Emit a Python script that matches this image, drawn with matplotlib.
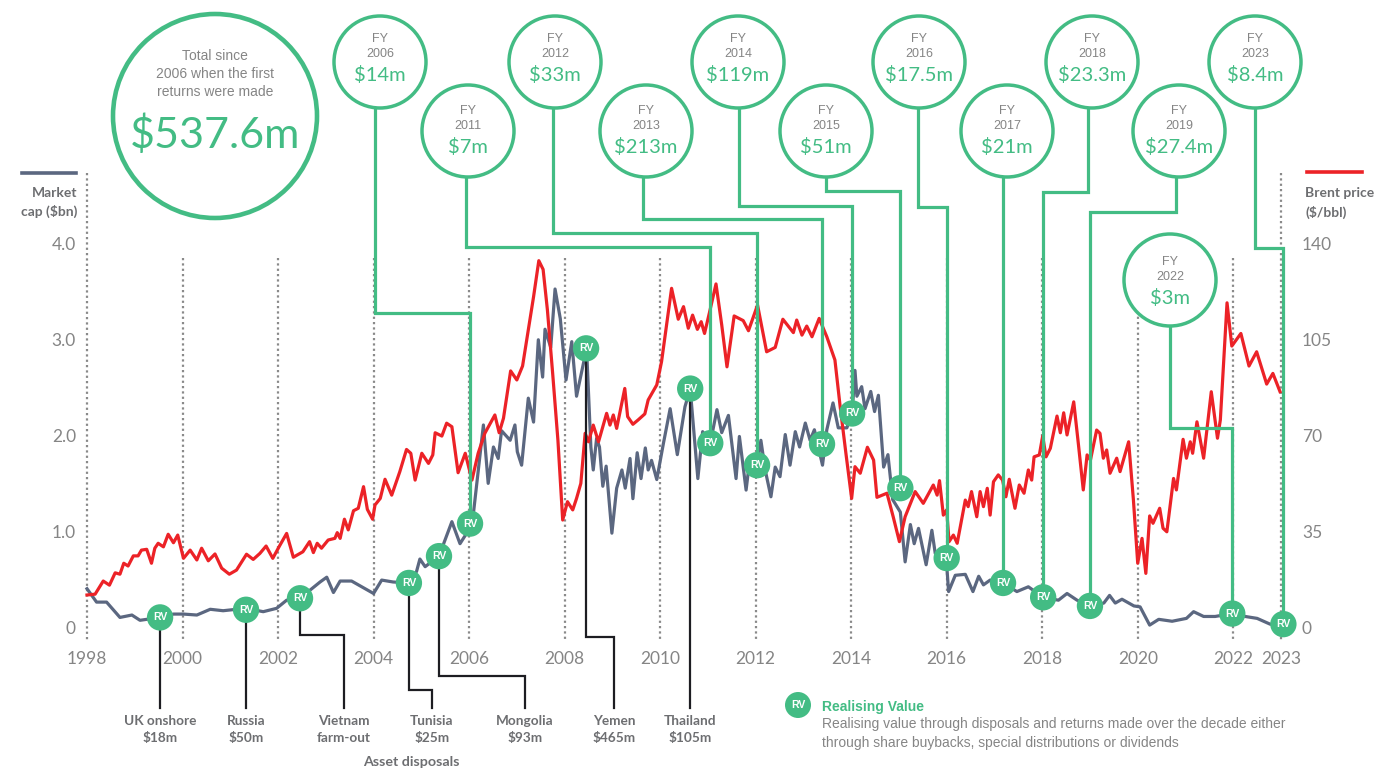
import matplotlib
matplotlib.use('Agg')
import matplotlib.pyplot as plt
import matplotlib.transforms as mtransforms
from matplotlib.patches import Circle

# ---- data ----
mcap_years = [1998.0, 1998.2, 1998.41, 1998.69, 1998.94, 1999.11, 1999.25, 1999.53, 1999.81, 2000.02,
              2000.3, 2000.58, 2000.85, 2001.13, 2001.33, 2001.48, 2001.69, 2001.97, 2002.18, 2002.46,
              2002.88, 2003.02, 2003.16, 2003.3, 2003.54, 2004.0, 2004.17, 2004.41, 2004.74, 2004.9,
              2004.97, 2005.08, 2005.37, 2005.64, 2005.81, 2005.95, 2006.02, 2006.06, 2006.3, 2006.4,
              2006.51, 2006.61, 2006.68, 2006.86, 2006.96, 2007.01, 2007.1, 2007.24, 2007.35, 2007.45,
              2007.54, 2007.59, 2007.71, 2007.8, 2007.91, 2008.03, 2008.15, 2008.25, 2008.46, 2008.55,
              2008.6, 2008.67, 2008.73, 2008.8, 2008.87, 2008.94, 2008.99, 2009.09, 2009.2, 2009.27,
              2009.37, 2009.43, 2009.52, 2009.6, 2009.69, 2009.75, 2009.82, 2009.93, 2010.07, 2010.21,
              2010.36, 2010.52, 2010.63, 2010.79, 2010.89, 2011.05, 2011.19, 2011.29, 2011.43, 2011.59,
              2011.66, 2011.8, 2011.88, 2012.03, 2012.11, 2012.2, 2012.32, 2012.41, 2012.51, 2012.62,
              2012.72, 2012.83, 2012.92, 2013.04, 2013.14, 2013.23, 2013.4, 2013.49, 2013.62, 2013.73,
              2013.91, 2014.02, 2014.08, 2014.12, 2014.22, 2014.29, 2014.41, 2014.49, 2014.57, 2014.68,
              2014.77, 2014.87, 2015.03, 2015.13, 2015.24, 2015.32, 2015.41, 2015.57, 2015.69, 2015.76,
              2015.99, 2016.04, 2016.18, 2016.39, 2016.55, 2016.67, 2016.77, 2016.91, 2017.18, 2017.47,
              2017.71, 2018.02, 2018.34, 2018.52, 2018.73, 2019.01, 2019.29, 2019.41, 2019.53, 2019.67,
              2019.92, 2020.05, 2020.25, 2020.44, 2020.72, 2021.02, 2021.17, 2021.38, 2021.62, 2021.98,
              2022.25, 2022.5, 2022.77, 2023.0]
mcap_vals = [0.40, 0.26, 0.26, 0.10, 0.125, 0.07, 0.08, 0.10, 0.135, 0.135,
             0.125, 0.185, 0.17, 0.185, 0.18, 0.18, 0.16, 0.195, 0.28, 0.30,
             0.47, 0.52, 0.36, 0.48, 0.48, 0.35, 0.49, 0.47, 0.46, 0.58,
             0.71, 0.63, 0.74, 1.10, 0.87, 0.98, 1.08, 1.05, 2.11, 1.50,
             1.88, 1.76, 2.05, 1.95, 2.11, 1.83, 1.69, 2.39, 2.14, 3.00,
             2.61, 3.11, 2.92, 3.53, 3.22, 2.58, 2.98, 2.41, 2.91, 1.88,
             1.64, 1.97, 1.88, 1.47, 1.68, 1.27, 0.98, 1.45, 1.64, 1.45,
             1.76, 1.34, 1.82, 1.55, 1.87, 1.64, 1.74, 1.54, 1.92, 2.28,
             1.80, 2.30, 2.49, 1.55, 2.04, 1.92, 2.27, 2.03, 2.21, 1.55,
             1.99, 1.43, 1.76, 1.69, 1.95, 1.64, 1.36, 1.67, 1.57, 2.01,
             1.69, 2.04, 1.88, 2.13, 1.95, 2.06, 1.69, 2.06, 2.34, 2.08,
             2.08, 2.23, 2.68, 2.41, 2.51, 2.28, 2.46, 2.25, 2.42, 1.67,
             1.80, 1.33, 1.20, 0.68, 1.07, 0.87, 1.03, 0.65, 1.01, 0.77,
             0.72, 0.37, 0.54, 0.55, 0.37, 0.53, 0.44, 0.49, 0.46, 0.37,
             0.42, 0.31, 0.28, 0.35, 0.28, 0.22, 0.25, 0.33, 0.25, 0.29,
             0.22, 0.21, 0.02, 0.08, 0.06, 0.09, 0.16, 0.11, 0.11, 0.14,
             0.11, 0.09, 0.03, 0.02]

brent_years = [1998.0, 1998.17, 1998.34, 1998.47, 1998.59, 1998.69, 1998.77, 1998.86, 1998.97, 1999.07,
               1999.14, 1999.25, 1999.35, 1999.42, 1999.49, 1999.6, 1999.7, 1999.81, 1999.9, 2000.02,
               2000.16, 2000.3, 2000.4, 2000.54, 2000.68, 2000.82, 2000.98, 2001.13, 2001.34, 2001.48,
               2001.62, 2001.75, 2001.89, 2002.03, 2002.18, 2002.32, 2002.52, 2002.66, 2002.74, 2002.82,
               2002.91, 2003.05, 2003.19, 2003.24, 2003.3, 2003.39, 2003.47, 2003.58, 2003.68, 2003.79,
               2003.87, 2003.98, 2004.03, 2004.14, 2004.24, 2004.38, 2004.55, 2004.69, 2004.78, 2004.87,
               2005.01, 2005.15, 2005.24, 2005.29, 2005.43, 2005.53, 2005.64, 2005.77, 2005.92, 2006.06,
               2006.19, 2006.33, 2006.54, 2006.63, 2006.72, 2006.87, 2007.0, 2007.12, 2007.24, 2007.35,
               2007.46, 2007.55, 2007.64, 2007.75, 2007.86, 2007.96, 2008.06, 2008.17, 2008.25, 2008.34,
               2008.43, 2008.5, 2008.6, 2008.71, 2008.88, 2008.95, 2009.02, 2009.09, 2009.26, 2009.32,
               2009.43, 2009.54, 2009.68, 2009.75, 2009.93, 2010.03, 2010.14, 2010.24, 2010.38, 2010.49,
               2010.59, 2010.68, 2010.78, 2010.86, 2010.93, 2011.03, 2011.17, 2011.29, 2011.4, 2011.55,
               2011.74, 2011.85, 2012.04, 2012.23, 2012.41, 2012.57, 2012.79, 2012.86, 2012.97, 2013.07,
               2013.18, 2013.33, 2013.49, 2013.66, 2013.77, 2013.89, 2014.01, 2014.08, 2014.19, 2014.34,
               2014.47, 2014.54, 2014.75, 2014.88, 2015.01, 2015.13, 2015.34, 2015.51, 2015.72, 2015.8,
               2015.85, 2015.93, 2016.0, 2016.05, 2016.14, 2016.22, 2016.39, 2016.45, 2016.52, 2016.63,
               2016.7, 2016.77, 2016.85, 2016.91, 2016.98, 2017.08, 2017.17, 2017.24, 2017.31, 2017.43,
               2017.52, 2017.62, 2017.71, 2017.78, 2017.83, 2017.94, 2018.01, 2018.08, 2018.17, 2018.31,
               2018.38, 2018.45, 2018.52, 2018.66, 2018.76, 2018.86, 2018.94, 2019.01, 2019.14, 2019.21,
               2019.28, 2019.35, 2019.42, 2019.56, 2019.63, 2019.81, 2019.91, 2020.0, 2020.09, 2020.17,
               2020.25, 2020.32, 2020.46, 2020.53, 2020.61, 2020.75, 2020.81, 2020.95, 2021.02, 2021.1,
               2021.15, 2021.24, 2021.38, 2021.54, 2021.67, 2021.73, 2021.87, 2021.97, 2022.16, 2022.33,
               2022.49, 2022.7, 2022.83, 2022.98]
brent_vals = [11.7, 12.0, 16.8, 15.3, 19.8, 19.3, 23.3, 22.3, 26.0, 26.0,
              28.1, 28.4, 23.3, 28.8, 30.6, 29.3, 33.9, 30.8, 33.6, 25.1,
              28.1, 24.5, 28.8, 24.2, 26.7, 21.5, 19.3, 20.8, 26.6, 24.7,
              26.9, 29.6, 25.1, 29.6, 34.2, 25.5, 27.5, 31.2, 27.2, 30.6,
              28.8, 31.8, 32.4, 34.5, 32.4, 39.4, 35.5, 42.5, 43.4, 51.3,
              43.0, 39.4, 44.6, 47.0, 54.0, 48.2, 56.8, 64.9, 63.5, 53.7,
              63.5, 59.8, 62.9, 71.0, 69.8, 74.5, 73.2, 56.4, 63.5, 53.7,
              63.5, 70.8, 77.5, 71.0, 76.3, 93.6, 90.3, 95.4, 108.6, 120.7,
              133.9, 130.7, 115.9, 92.7, 68.3, 39.1, 45.8, 42.8, 47.0, 52.5,
              70.8, 67.7, 73.8, 67.7, 78.1, 73.8, 77.5, 72.6, 87.2, 76.9,
              74.1, 75.7, 77.9, 83.0, 88.5, 97.0, 111.0, 123.8, 112.5, 117.1,
              109.2, 114.0, 108.8, 111.6, 107.3, 114.7, 125.4, 110.4, 95.1, 113.7,
              112.0, 108.3, 117.7, 100.6, 102.2, 112.5, 107.6, 112.2, 106.7, 110.0,
              106.1, 112.8, 106.1, 97.6, 80.5, 63.5, 47.0, 58.6, 56.2, 65.7,
              61.0, 47.4, 48.9, 40.3, 31.2, 40.3, 49.5, 45.2, 51.9, 48.2,
              53.5, 40.9, 42.8, 31.2, 33.6, 30.6, 46.4, 44.0, 49.5, 40.3,
              49.5, 44.0, 50.7, 40.9, 53.1, 55.6, 53.7, 47.6, 54.0, 43.4,
              51.9, 48.9, 57.4, 53.7, 62.2, 62.9, 69.8, 62.2, 65.3, 77.1,
              71.0, 78.3, 70.2, 82.3, 66.5, 50.1, 62.9, 61.0, 72.0, 70.8,
              61.7, 64.7, 56.2, 61.7, 56.8, 67.7, 46.4, 23.3, 32.4, 19.6,
              40.6, 37.9, 43.4, 36.1, 34.8, 54.3, 50.1, 68.6, 61.7, 67.7,
              63.5, 75.0, 61.7, 86.0, 69.0, 75.7, 118.5, 102.7, 107.3, 95.4,
              100.6, 88.8, 92.7, 86.0]

# "Realising value" events, placed on the market cap line
rv_years = [1999.53, 2001.33, 2002.46, 2004.74, 2005.37, 2006.02, 2008.45, 2010.63, 2011.05, 2012.03,
            2013.39, 2014.02, 2015.03, 2016.0, 2017.18, 2018.02, 2019.0, 2021.98, 2023.05]
rv_vals = [0.10, 0.18, 0.30, 0.46, 0.74, 1.08, 2.91, 2.49, 1.92, 1.69,
           1.91, 2.23, 1.45, 0.72, 0.46, 0.31, 0.22, 0.14, 0.03]

# asset disposals (index into rv lists)
disp_names = ['UK onshore', 'Russia', 'Vietnam', 'Tunisia', 'Mongolia', 'Yemen', 'Thailand']
disp_second = ['$18m', '$50m', 'farm-out', '$25m', '$93m', '$465m', '$105m']
disp_rv = [0, 1, 2, 3, 4, 6, 7]

# returns by financial year (index into rv lists)
fy_years = ['2006', '2011', '2012', '2013', '2014', '2015', '2016', '2017', '2018', '2019', '2022', '2023']
fy_amounts = ['$14m', '$7m', '$33m', '$213m', '$119m', '$51m', '$17.5m', '$21m', '$23.3m', '$27.4m', '$3m', '$8.4m']
fy_rv = [5, 8, 9, 10, 11, 12, 13, 14, 15, 16, 17, 18]

total_text = '$537.6m'

# ---- layout (pixel positions of the callouts) ----
fy_cx = [380, 468, 555, 646, 738, 826, 919, 1007, 1092, 1179, 1170, 1255]
fy_cy = [62, 131, 62, 131, 62, 131, 62, 131, 62, 131, 280, 62]
fy_stem = [375, 466, 553, 643, 739, 826, 918, 1003, 1088, 1176, 1170, 1255]
fy_elbow = [313, 247, 233, 219, 206, 191, 207, None, 192, 212, 428, 248]
fy_tdy = [0, 3, 0, 3, 0, 3, 0, 3, 0, 3, 5, 0]

disp_lx = [160, 246, 344, 432, 525, 614, 690]
disp_elbow = [None, None, 635, 690, 676, 637, None]

GREEN = '#43BC84'
RED = '#EC2227'
SLATE = '#5B6780'
TXT = '#858585'
DARK = '#6D6E71'
ARIAL = ['Liberation Sans', 'DejaVu Sans']
W, H = 1400, 770

plt.rcParams['font.family'] = ['Lato', 'DejaVu Sans']

fig = plt.figure(figsize=(W / 100, H / 100), dpi=100)
fig.patch.set_facecolor('white')
# top-left pixel coordinates
pix = mtransforms.Affine2D().scale(1 / W, -1 / H).translate(0, 1) + fig.transFigure

ax = fig.add_axes([87 / W, (H - 627) / H, (1281 - 87) / W, (627 - 244) / H])
ax.set_xlim(1998, 2023)
ax.set_ylim(0, 4)
ax2 = ax.twinx()
ax2.set_ylim(0, 140)

for a in (ax, ax2):
    for s in a.spines.values():
        s.set_visible(False)
    a.set_facecolor('none')

ax.set_xticks([1998, 2000, 2002, 2004, 2006, 2008, 2010, 2012, 2014, 2016, 2018, 2020, 2022, 2023])
ax.set_yticks([0, 1, 2, 3, 4])
ax.set_yticklabels(['0', '1.0', '2.0', '3.0', '4.0'])
ax2.set_yticks([0, 35, 70, 105, 140])
ax.tick_params(axis='x', length=0, pad=17, labelsize=12.5, labelcolor=TXT)
ax.tick_params(axis='y', length=0, pad=8, labelsize=12.5, labelcolor=TXT)
ax2.tick_params(axis='y', length=0, pad=15, labelsize=12.5, labelcolor=TXT)

# dotted year guides
blend = mtransforms.blended_transform_factory(ax.transData, pix)
for yr in range(2000, 2023, 2):
    ax.plot([yr, yr], [258, 640], transform=blend, color='#8a8a8a', lw=1.6,
            ls=(0, (1, 1.4)), clip_on=False, zorder=1)
for yr in (1998, 2023):
    ax.plot([yr, yr], [173, 640], transform=blend, color='#8a8a8a', lw=1.6,
            ls=(0, (1, 1.4)), clip_on=False, zorder=1)

ax.plot(mcap_years, mcap_vals, color=SLATE, lw=2.3, clip_on=False, zorder=2)
ax2.plot(brent_years, brent_vals, color=RED, lw=2.3, clip_on=False, zorder=2)


def to_pix(yr, v):
    d = ax.transData.transform((yr, v))
    return pix.inverted().transform(d)


rv_pix = [to_pix(x, y) for x, y in zip(rv_years, rv_vals)]

# green connectors from FY callouts
for i in range(len(fy_years)):
    rx, ry = rv_pix[fy_rv[i]]
    top = fy_cy[i] + 47
    if fy_elbow[i] is None:
        xs, ys = [rx, rx], [top, ry]
    else:
        xs = [fy_stem[i], fy_stem[i], rx, rx]
        ys = [top, fy_elbow[i], fy_elbow[i], ry]
    ax2.plot(xs, ys, transform=pix, color=GREEN, lw=2.3, clip_on=False, zorder=3,
             solid_joinstyle='miter')

# black connectors to asset disposals
for i in range(len(disp_names)):
    rx, ry = rv_pix[disp_rv[i]]
    lx = disp_lx[i]
    if disp_elbow[i] is None:
        xs, ys = [rx, rx], [ry, 708]
    else:
        xs = [rx, rx, lx, lx]
        ys = [ry, disp_elbow[i], disp_elbow[i], 708]
    ax2.plot(xs, ys, transform=pix, color='#1d1d22', lw=1.6, clip_on=False, zorder=3,
             solid_joinstyle='miter')
    ax2.text(lx, 721, disp_names[i], transform=pix, ha='center', va='center',
             fontsize=9.8, fontweight='bold', color=DARK)
    ax2.text(lx, 738, disp_second[i], transform=pix, ha='center', va='center',
             fontsize=9.8, fontweight='bold', color=DARK)
ax2.text(411, 762, 'Asset disposals', transform=pix, ha='center', va='center',
         fontsize=10.3, fontweight='bold', color=DARK)

# RV markers
ax2.scatter(rv_years, rv_vals, transform=ax.transData, s=360, color=GREEN,
            edgecolors='none', clip_on=False, zorder=6)
for x, y in zip(rv_years, rv_vals):
    ax2.text(x, y, 'RV', transform=ax.transData, ha='center', va='center',
             fontsize=7.5, fontweight='bold', color='white', zorder=7, family=ARIAL)

# FY callout circles
for i in range(len(fy_years)):
    cx, cy, d = fy_cx[i], fy_cy[i], fy_tdy[i]
    ax2.add_patch(Circle((cx, cy), 46, transform=pix, facecolor='white', edgecolor=GREEN,
                         lw=2.5, clip_on=False, zorder=4))
    ax2.text(cx, cy - 23 + d, 'FY', transform=pix, ha='center', va='center', fontsize=9,
             color=TXT, family=ARIAL, zorder=5)
    ax2.text(cx, cy - 8 + d, fy_years[i], transform=pix, ha='center', va='center', fontsize=9,
             color=TXT, family=ARIAL, zorder=5)
    ax2.text(cx, cy + 13 + d, fy_amounts[i], transform=pix, ha='center', va='center',
             fontsize=14.5, color=GREEN, zorder=5)

# total circle
ax2.add_patch(Circle((215, 116), 102, transform=pix, facecolor='white', edgecolor=GREEN,
                     lw=3.3, clip_on=False, zorder=4))
for ty, t in zip([56, 74, 92], ['Total since', '2006 when the first', 'returns were made']):
    ax2.text(215, ty, t, transform=pix, ha='center', va='center', fontsize=10,
             color=TXT, family=ARIAL, zorder=5)
ax2.text(215, 135, total_text, transform=pix, ha='center', va='center', fontsize=31,
         color=GREEN, zorder=5)

# axis legends
ax2.plot([22, 76], [173, 173], transform=pix, color=SLATE, lw=2.6, clip_on=False)
ax2.text(77, 193, 'Market', transform=pix, ha='right', va='center', fontsize=10,
         fontweight='bold', color=DARK)
ax2.text(77, 211, 'cap ($bn)', transform=pix, ha='right', va='center', fontsize=10,
         fontweight='bold', color=DARK)
ax2.plot([1307, 1362], [172, 172], transform=pix, color=RED, lw=2.6, clip_on=False)
ax2.text(1305, 193, 'Brent price', transform=pix, ha='left', va='center', fontsize=10,
         fontweight='bold', color=DARK)
ax2.text(1305, 212, '($/bbl)', transform=pix, ha='left', va='center', fontsize=10,
         fontweight='bold', color=DARK)

# RV key
ax2.add_patch(Circle((798, 705), 13, transform=pix, facecolor=GREEN, edgecolor='none',
                     clip_on=False, zorder=6))
ax2.text(798, 705, 'RV', transform=pix, ha='center', va='center', fontsize=7.5,
         fontweight='bold', color='white', zorder=7, family=ARIAL)
ax2.text(822, 707, 'Realising Value', transform=pix, ha='left', va='center', fontsize=10,
         fontweight='bold', color=GREEN, family=ARIAL)
ax2.text(822, 724, 'Realising value through disposals and returns made over the decade either',
         transform=pix, ha='left', va='center', fontsize=10, color=TXT, family=ARIAL)
ax2.text(822, 743, 'through share buybacks, special distributions or dividends',
         transform=pix, ha='left', va='center', fontsize=10, color=TXT, family=ARIAL)

ax.set_xlim(1998, 2023)
ax.set_ylim(0, 4)
ax2.set_ylim(0, 140)

fig.savefig('out.png', dpi=100, facecolor='white')
